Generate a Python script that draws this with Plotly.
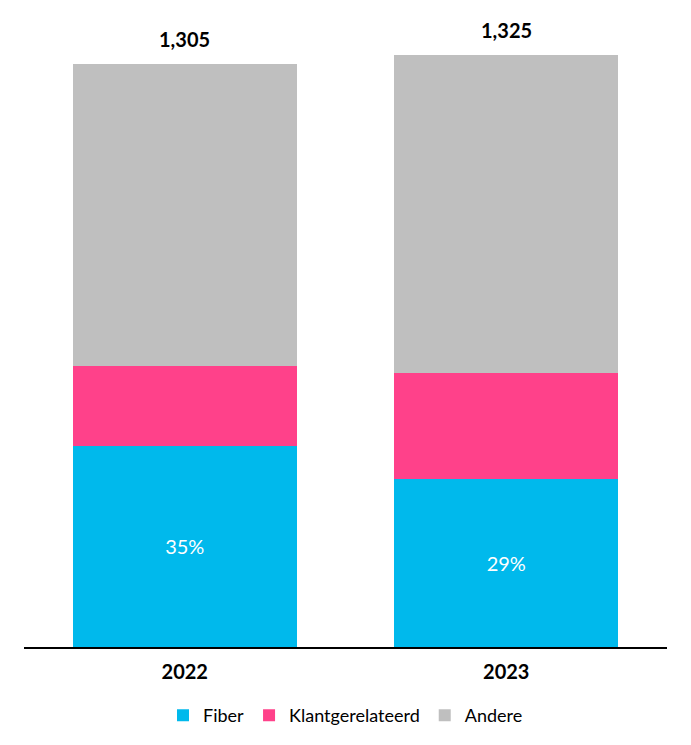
import plotly.graph_objects as go

years = ["2022", "2023"]
fiber = [451, 377]
klant = [179, 236]
andere = [675, 712]
totals = [1305, 1325]
total_labels = ["1,305", "1,325"]
fiber_pct = ["35%", "29%"]

FONT = "Lato"
pos = list(range(len(years)))  # category slots

fig = go.Figure()
fig.add_trace(go.Bar(
    x=pos, y=fiber, name="Fiber", marker=dict(color="#00B9EC", line=dict(width=0)),
    text=fiber_pct, textposition="inside", insidetextanchor="middle",
    textfont=dict(color="white", size=20, family=FONT), hoverinfo="skip",
))
fig.add_trace(go.Bar(
    x=pos, y=klant, name="Klantgerelateerd", marker=dict(color="#FF418A", line=dict(width=0)),
    hoverinfo="skip",
))
fig.add_trace(go.Bar(
    x=pos, y=andere, name="Andere", marker=dict(color="#BFBFBF", line=dict(width=0)),
    hoverinfo="skip",
))

for p, tot, lab in zip(pos, totals, total_labels):
    fig.add_annotation(x=p, y=tot, text="<b>" + lab + "</b>", showarrow=False, yanchor="bottom",
                       yshift=11, font=dict(size=20, color="black", family=FONT))

fig.update_layout(
    width=691, height=745,
    barmode="stack", bargap=0.303,
    plot_bgcolor="white", paper_bgcolor="white",
    margin=dict(l=16, r=32, t=12, b=106),
    font=dict(family=FONT, color="black"),
    showlegend=True,
    legend=dict(orientation="h", x=0.5, xanchor="center", y=-0.08, yanchor="top",
                font=dict(size=18, family=FONT), traceorder="normal",
                itemwidth=30),
    yaxis=dict(visible=False, range=[0, 1404], showgrid=False, zeroline=False),
)
fig.update_xaxes(type="linear", range=[-0.5, len(years) - 0.5],
                 tickmode="array", tickvals=pos, ticktext=["<b>" + y + "</b>" for y in years],
                 showline=True, linecolor="black", linewidth=2, ticks="", zeroline=False,
                 ticklabelstandoff=6,
                 tickfont=dict(size=20, family=FONT), showgrid=False)

fig.write_html("out.html")
